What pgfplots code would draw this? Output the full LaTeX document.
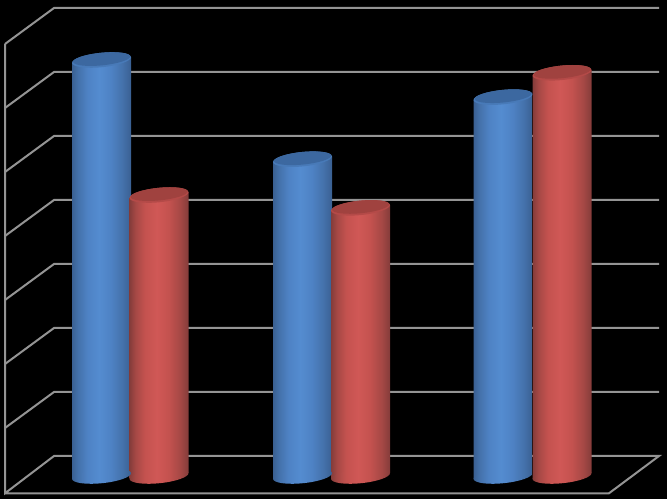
\documentclass[border=0pt]{standalone}
\usepackage{pgfplots}
\usepackage{pgfplotstable}
\pgfplotsset{compat=1.18}

\definecolor{gridgray}{RGB}{148,148,148}
\definecolor{blueedge}{RGB}{58,96,146}
\definecolor{bluesoft}{RGB}{68,113,170}
\definecolor{bluemid}{RGB}{78,130,196}
\definecolor{bluelite}{RGB}{84,140,208}
\definecolor{bluetop}{RGB}{60,104,160}
\definecolor{bluerim}{RGB}{72,122,184}
\definecolor{rededge}{RGB}{132,60,58}
\definecolor{redsoft}{RGB}{165,72,69}
\definecolor{redmid}{RGB}{196,82,79}
\definecolor{redlite}{RGB}{208,88,86}
\definecolor{redtop}{RGB}{160,66,63}
\definecolor{redrim}{RGB}{180,74,72}

% 25bp..75bp of these shadings is the width of the path
\pgfdeclarehorizontalshading{cylblue}{100bp}{color(0bp)=(blueedge); color(25bp)=(blueedge); color(30bp)=(bluesoft); color(38bp)=(bluemid); color(48bp)=(bluelite); color(58bp)=(bluemid); color(68bp)=(bluesoft); color(75bp)=(blueedge); color(100bp)=(blueedge)}
\pgfdeclarehorizontalshading{cylred}{100bp}{color(0bp)=(rededge); color(25bp)=(rededge); color(30bp)=(redsoft); color(38bp)=(redmid); color(48bp)=(redlite); color(58bp)=(redmid); color(68bp)=(redsoft); color(75bp)=(rededge); color(100bp)=(rededge)}

\pgfdeclareplotmark{baseblue}{%
  \pgfpathellipse{\pgfpointorigin}{\pgfqpoint{22.1pt}{2.2pt}}{\pgfqpoint{-0.4pt}{5.4pt}}%
  \pgfshadepath{cylblue}{0}\pgfusepath{discard}}
\pgfdeclareplotmark{basered}{%
  \pgfpathellipse{\pgfpointorigin}{\pgfqpoint{22.1pt}{2.2pt}}{\pgfqpoint{-0.4pt}{5.4pt}}%
  \pgfshadepath{cylred}{0}\pgfusepath{discard}}
\pgfdeclareplotmark{topblue}{%
  \pgfsetfillcolor{bluerim}%
  \pgfpathellipse{\pgfpointorigin}{\pgfqpoint{22.1pt}{2.2pt}}{\pgfqpoint{-0.4pt}{5.4pt}}\pgfusepath{fill}%
  \pgfsetfillcolor{bluetop}%
  \pgfpathellipse{\pgfqpoint{0.1pt}{0.7pt}}{\pgfqpoint{21.4pt}{2.1pt}}{\pgfqpoint{-0.4pt}{4.7pt}}\pgfusepath{fill}}
\pgfdeclareplotmark{topred}{%
  \pgfsetfillcolor{redrim}%
  \pgfpathellipse{\pgfpointorigin}{\pgfqpoint{22.1pt}{2.2pt}}{\pgfqpoint{-0.4pt}{5.4pt}}\pgfusepath{fill}%
  \pgfsetfillcolor{redtop}%
  \pgfpathellipse{\pgfqpoint{0.1pt}{0.7pt}}{\pgfqpoint{21.4pt}{2.1pt}}{\pgfqpoint{-0.4pt}{4.7pt}}\pgfusepath{fill}}

\pgfplotstableread{
x val base
101.5 6.50 0
302.5 4.95 0
503 5.92 0
}\blueseries
\pgfplotstableread{
x val base
159 4.39 0
360.5 4.19 0
562 6.30 0
}\redseries

\pgfplotsset{
  wall/.style={gridgray, line width=1.5pt, mark=none, line join=miter},
  body/.style={draw=none, mark=none, shading=#1},
}

\begin{document}
\begin{tikzpicture}
\begin{axis}[
  scale only axis,
  width=500.25pt, height=374.25pt,
  xmin=0, xmax=667,
  ymin=-0.359375, ymax=7.4375,
  ticks=none,
  axis line style={draw=none},
  axis background/.style={fill=black},
]
% gridlines: front edge, then back wall
\addplot[wall] coordinates {(5,6.75) (54,7.3125) (659,7.3125)};
\addplot[wall] coordinates {(5,5.75) (54,6.3125) (659,6.3125)};
\addplot[wall] coordinates {(5,4.75) (54,5.3125) (659,5.3125)};
\addplot[wall] coordinates {(5,3.75) (54,4.3125) (659,4.3125)};
\addplot[wall] coordinates {(5,2.75) (54,3.3125) (659,3.3125)};
\addplot[wall] coordinates {(5,1.75) (54,2.3125) (659,2.3125)};
\addplot[wall] coordinates {(5,0.75) (54,1.3125) (659,1.3125)};
% floor and left edge
\addplot[wall] coordinates {(5,6.75) (5,-0.27) (54,0.3125) (659,0.3125) (609,-0.27) (5,-0.27)};

% cylinders, blue before red so that red overlaps; the ends are tilted by 0.046
\addplot[only marks, mark=baseblue] table[x=x, y=base] {\blueseries};
\addplot[body=cylblue] coordinates {(72,-0.046) (72,6.454) (131,6.546) (131,0.046)} -- cycle;
\addplot[body=cylblue] coordinates {(273,-0.046) (273,4.904) (332,4.996) (332,0.046)} -- cycle;
\addplot[body=cylblue] coordinates {(473.5,-0.046) (473.5,5.874) (532.5,5.966) (532.5,0.046)} -- cycle;
\addplot[only marks, mark=topblue] table[x=x, y=val] {\blueseries};

\addplot[only marks, mark=basered] table[x=x, y=base] {\redseries};
\addplot[body=cylred] coordinates {(129.5,-0.046) (129.5,4.344) (188.5,4.436) (188.5,0.046)} -- cycle;
\addplot[body=cylred] coordinates {(331,-0.046) (331,4.144) (390,4.236) (390,0.046)} -- cycle;
\addplot[body=cylred] coordinates {(532.5,-0.046) (532.5,6.254) (591.5,6.346) (591.5,0.046)} -- cycle;
\addplot[only marks, mark=topred] table[x=x, y=val] {\redseries};
\end{axis}
\end{tikzpicture}
\end{document}
